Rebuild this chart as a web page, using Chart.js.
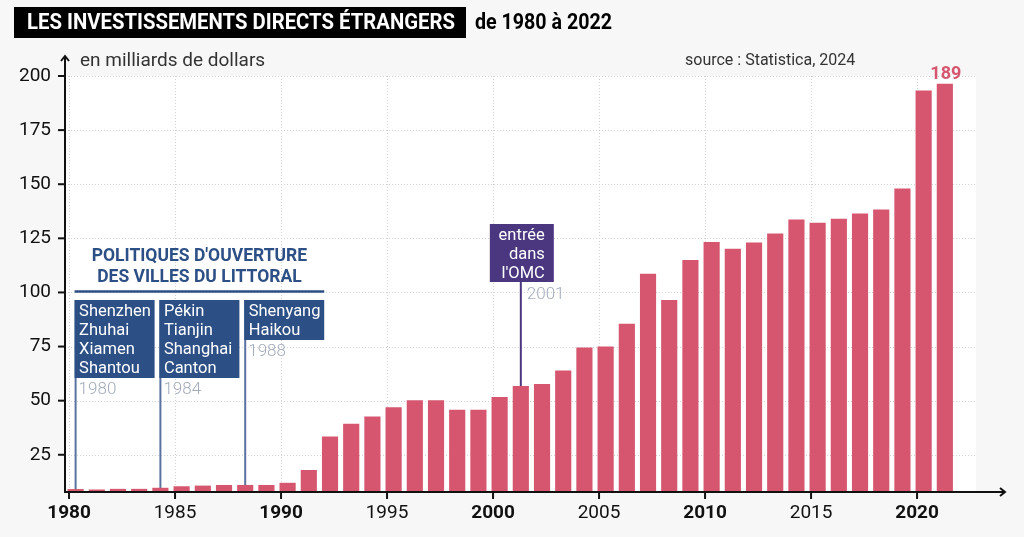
<!DOCTYPE html>
<html lang="fr">
<head>
<meta charset="utf-8">
<title>Les investissements directs étrangers de 1980 à 2022</title>
<script src="https://cdn.jsdelivr.net/npm/chart.js@4.4.1/dist/chart.umd.min.js"></script>
<style>
  html, body { margin: 0; padding: 0; background: #f7f7f7; }
  #wrap { width: 1024px; height: 537px; }
</style>
</head>
<body>
<div id="wrap"><canvas id="fdiChart" width="1024" height="537"></canvas></div>
<script>
// ---------- data ----------
const years = [1980,1981,1982,1983,1984,1985,1986,1987,1988,1989,
               1990,1991,1992,1993,1994,1995,1996,1997,1998,1999,
               2000,2001,2002,2003,2004,2005,2006,2007,2008,2009,
               2010,2011,2012,2013,2014,2015,2016,2017,2018,2019,
               2020,2021];
const fdiValues = [9.0,8.8,9.1,9.1,9.6,10.3,10.6,10.9,10.9,10.9,
                   11.9,17.8,33.3,39.2,42.5,46.8,50.0,50.0,45.6,45.6,
                   51.5,56.6,57.6,63.8,74.4,74.9,85.4,108.5,96.3,114.8,
                   123.2,120.0,122.9,127.1,133.6,132.0,133.9,136.3,138.2,147.9,
                   193.1,196.3];
const yTicks = [25,50,75,100,125,150,175,200];
const xTicks = [1980,1985,1990,1995,2000,2005,2010,2015,2020];
const boldYears = [1980,1990,2000,2010,2020];
const lastLabel = '189';

const policyYears  = [1980, 1984, 1988];
const policyCities = [['Shenzhen','Zhuhai','Xiamen','Shantou'],
                      ['Pékin','Tianjin','Shanghai','Canton'],
                      ['Shenyang','Haikou']];
const policyTitle  = ["POLITIQUES D'OUVERTURE", 'DES VILLES DU LITTORAL'];
const wtoYear  = 2001;
const wtoLines = ['entrée','dans',"l'OMC"];

// ---------- styles ----------
const BAR_SHIFT = 0.31;   // year ticks sit a bit left of the bar centres
const RED = '#d5566e', NAVY = '#2c4f85', STEM = '#5873a0', PURPLE = '#4b3680', YEARGREY = '#a3abbb';
const FONT = 'Roboto';

function seg(ctx, x1, y1, x2, y2) { ctx.beginPath(); ctx.moveTo(x1, y1); ctx.lineTo(x2, y2); ctx.stroke(); }

const decor = {
  id: 'decor',
  beforeDraw(chart) {
    const { ctx, chartArea: a, scales: { x, y } } = chart;
    ctx.save();
    ctx.fillStyle = '#f7f7f7'; ctx.fillRect(0, 0, chart.width, chart.height);
    ctx.fillStyle = '#ffffff'; ctx.fillRect(a.left, a.top, a.right - a.left, a.bottom - a.top);
    // dotted grid
    ctx.strokeStyle = '#d2d2d2'; ctx.lineWidth = 1; ctx.setLineDash([1, 2]);
    yTicks.forEach(v => { const py = Math.round(y.getPixelForValue(v)) + 0.5; seg(ctx, a.left, py, a.right, py); });
    xTicks.forEach(v => { const px = Math.round(x.getPixelForValue(v - BAR_SHIFT)) + 0.5; seg(ctx, px, a.top, px, a.bottom); });
    ctx.setLineDash([]);
    // annotation stems (behind the bars)
    ctx.lineWidth = 2;
    ctx.strokeStyle = STEM;
    policyYears.forEach(yr => { const px = x.getPixelForValue(yr); seg(ctx, px, 300, px, a.bottom); });
    ctx.strokeStyle = PURPLE;
    const wx = x.getPixelForValue(wtoYear); seg(ctx, wx, 282, wx, a.bottom);
    ctx.restore();
  },
  afterDatasetsDraw(chart) {
    const { ctx, chartArea: a, scales: { x, y } } = chart;
    ctx.save();
    // axes with arrows
    ctx.strokeStyle = '#111'; ctx.lineWidth = 2;
    const ax = a.left, ay = a.bottom;
    seg(ctx, ax, ay + 1, ax, 56);
    ctx.beginPath(); ctx.moveTo(ax - 4, 61); ctx.lineTo(ax, 56); ctx.lineTo(ax + 4, 61); ctx.stroke();
    seg(ctx, ax - 1, ay, 1005, ay);
    ctx.beginPath(); ctx.moveTo(1000, ay - 4); ctx.lineTo(1005, ay); ctx.lineTo(1000, ay + 4); ctx.stroke();
    yTicks.forEach(v => { const py = y.getPixelForValue(v); seg(ctx, ax - 7, py, ax, py); });
    xTicks.forEach(v => { const px = x.getPixelForValue(v - BAR_SHIFT); seg(ctx, px, ay, px, ay + 7); });

    // value label on the last bar
    const bars = chart.getDatasetMeta(0).data;
    const last = bars[bars.length - 1];
    ctx.fillStyle = RED; ctx.font = `bold 18px ${FONT}`;
    ctx.textAlign = 'center'; ctx.textBaseline = 'middle';
    ctx.fillText(lastLabel, last.x + 1, last.y - 10);

    // policy boxes
    const lefts = policyYears.map(yr => x.getPixelForValue(yr) - 1);
    const boxW = 80, top = 300, lh = 19;
    policyCities.forEach((cities, i) => {
      const h = cities.length * lh + 2;
      ctx.fillStyle = NAVY; ctx.fillRect(lefts[i], top, boxW, h);
      ctx.fillStyle = '#fff'; ctx.font = `16.5px ${FONT}`; ctx.textAlign = 'left';
      cities.forEach((c, j) => ctx.fillText(c, lefts[i] + 4.5, top + 11.5 + j * lh, 73));
      ctx.fillStyle = YEARGREY; ctx.font = `300 17px ${FONT}`;
      ctx.fillText(String(policyYears[i]), lefts[i] + 4, top + h + 11.5);
    });
    const hl = lefts[0], hr = lefts[2] + boxW, hc = (hl + hr) / 2;
    ctx.fillStyle = NAVY; ctx.font = `bold 17.5px ${FONT}`; ctx.textAlign = 'center';
    ctx.fillText(policyTitle[0], hc, 257, 220);
    ctx.fillText(policyTitle[1], hc, 278, 210);
    ctx.strokeStyle = NAVY; ctx.lineWidth = 2.5; seg(ctx, hl, 291.5, hr, 291.5);

    // WTO box
    const wx = x.getPixelForValue(wtoYear);
    ctx.fillStyle = PURPLE; ctx.fillRect(wx - 31, 224, 64, 58);
    ctx.fillStyle = '#fff'; ctx.font = `16.5px ${FONT}`; ctx.textAlign = 'right';
    wtoLines.forEach((t, j) => ctx.fillText(t, wx + 24, 235.5 + j * lh));
    ctx.fillStyle = YEARGREY; ctx.font = `300 17px ${FONT}`; ctx.textAlign = 'left';
    ctx.fillText(String(wtoYear), wx + 6, 294.5);
    ctx.restore();
  },
  afterDraw(chart) {
    const { ctx } = chart;
    ctx.save();
    ctx.textBaseline = 'middle'; ctx.textAlign = 'left';
    ctx.fillStyle = '#000'; ctx.fillRect(14, 7, 452, 31);
    ctx.fillStyle = '#fff'; ctx.font = `bold 22px ${FONT}`;
    ctx.fillText('LES INVESTISSEMENTS DIRECTS ÉTRANGERS', 27, 23, 428);
    ctx.fillStyle = '#000';
    ctx.fillText('de 1980 à 2022', 475, 23, 137);
    ctx.fillStyle = '#333'; ctx.font = `19px ${FONT}`;
    ctx.fillText('en milliards de dollars', 80, 61, 188);
    ctx.font = `16px ${FONT}`;
    ctx.fillText('source : Statistica, 2024', 685, 61, 171);
    ctx.restore();
  }
};

new Chart(document.getElementById('fdiChart'), {
  type: 'bar',
  data: {
    datasets: [{
      data: years.map((yr, i) => ({ x: yr, y: fdiValues[i] })),
      backgroundColor: RED,
      borderWidth: 0,
      barThickness: 15.5
    }]
  },
  options: {
    responsive: false,
    animation: false,
    layout: { padding: { top: 76, right: 48, left: 0, bottom: 0 } },
    plugins: { legend: { display: false }, tooltip: { enabled: false } },
    scales: {
      x: {
        type: 'linear', min: 1979.5, max: 2022.47, offset: false,
        afterFit: s => { s.height = 45; },
        afterBuildTicks: s => { s.ticks = xTicks.map(v => ({ value: v - BAR_SHIFT })); },
        grid: { display: false, drawTicks: false },
        border: { display: false },
        ticks: {
          autoSkip: false, maxRotation: 0, padding: 10, color: '#111',
          callback: v => String(Math.round(v + BAR_SHIFT)),
          font: c => ({ family: FONT, size: 19,
            weight: c.tick && boldYears.includes(Math.round(c.tick.value + BAR_SHIFT)) ? 'bold' : 'normal' })
        }
      },
      y: {
        min: 7.8, max: 200,
        afterFit: s => { s.width = 65; },
        afterBuildTicks: s => { s.ticks = yTicks.map(v => ({ value: v })); },
        grid: { display: false, drawTicks: false },
        border: { display: false },
        ticks: { padding: 14, color: '#111', font: { family: FONT, size: 19 } }
      }
    }
  },
  plugins: [decor]
});
</script>
</body>
</html>
